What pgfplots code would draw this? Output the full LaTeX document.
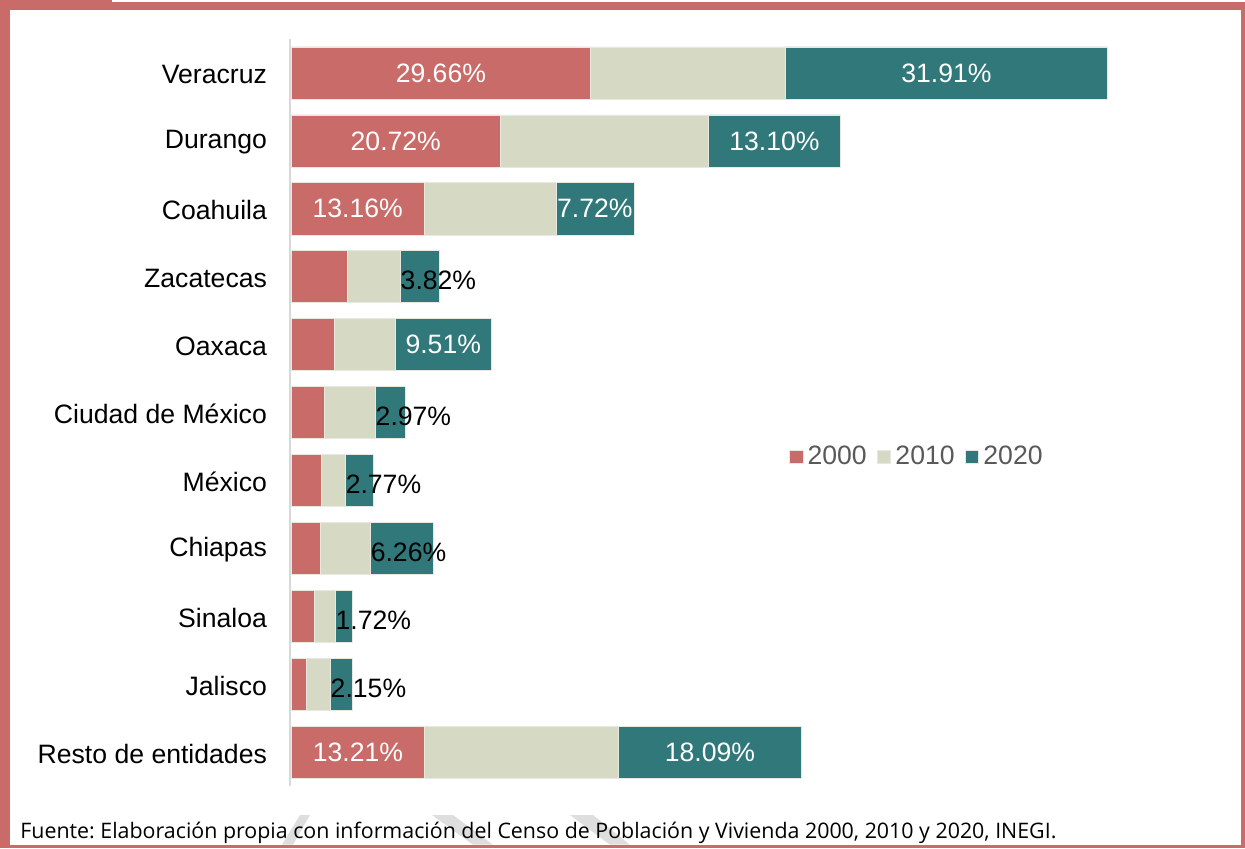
\documentclass[border=0pt]{standalone}
\usepackage{fontspec}
\setmainfont{Liberation Sans}
\newfontfamily\footfont{Open Sans}
\usepackage{pgfplots}
\pgfplotsset{compat=1.18}
\usepackage{pgfplotstable}
\definecolor{cA}{HTML}{C96C69}
\definecolor{cB}{HTML}{D6DAC4}
\definecolor{cC}{HTML}{31787A}
\definecolor{frm}{HTML}{C96C69}
\definecolor{axgrey}{HTML}{D9D9D9}
\definecolor{leggrey}{HTML}{595959}
\definecolor{wm}{HTML}{DEDEDE}
\definecolor{bord}{HTML}{E8E8E0}
\newcommand{\lblfont}{\fontsize{13.3}{16}\selectfont}
\tikzset{wl/.style={text=white, font=\lblfont, inner sep=0pt},
         bl/.style={text=black, font=\lblfont, inner sep=0pt, anchor=west, yshift=-2pt}}

\pgfplotstableread{
idx a b c
0 29.66 19.34 31.91
1 20.72 20.63 13.10
2 13.16 13.12 7.72
3 5.55 5.26 3.82
4 4.26 6.05 9.51
5 3.27 5.06 2.97
6 2.98 2.38 2.77
7 2.88 4.96 6.26
8 2.28 2.08 1.72
9 1.49 2.38 2.15
10 13.21 19.25 18.09
}\mydata

\begin{document}
\frenchspacing
\begin{tikzpicture}
% frame
\fill[white] (0,0) rectangle (622.5pt,-424pt);
\fill[frm] (0,-1.15pt) rectangle (622.5pt,-424pt);
\fill[frm] (0,0) rectangle (56pt,-1.15pt);
\fill[white] (5pt,-5pt) rectangle (620.35pt,-422.35pt);
% watermark slices
\fill[wm] (150pt,-407.5pt) -- (155pt,-407.5pt) -- (146.5pt,-422.35pt) -- (141pt,-422.35pt) -- cycle;
\fill[wm] (216pt,-407.5pt) -- (226.5pt,-407.5pt) -- (246.5pt,-422.35pt) -- (236.5pt,-422.35pt) -- cycle;
\fill[wm] (285pt,-407.5pt) -- (296.5pt,-407.5pt) -- (315pt,-422.35pt) -- (305pt,-422.35pt) -- cycle;

\begin{axis}[
  at={(145.15pt,-393pt)}, anchor=south west,
  scale only axis, width=410.7pt, height=373.5pt,
  xbar stacked, bar width=0.766,
  xmin=-0.1, xmax=81.35, ymin=-0.5, ymax=10.5, y dir=reverse,
  axis x line=none, axis y line*=left,
  y axis line style={draw=axgrey, line width=1pt},
  ytick={0,1,2,3,4,5,6,7,8,9,10},
  yticklabels={Veracruz, Durango, Coahuila, Zacatecas, Oaxaca, Ciudad de México, México, Chiapas, Sinaloa, Jalisco, Resto de entidades},
  major tick length=0pt,
  yticklabel style={anchor=east, inner sep=0pt, xshift=-11.5pt, yshift=-0.8pt, font=\lblfont, text=black},
  clip=false,
  legend columns=3,
  legend style={at={(0.607,0.4405)}, anchor=west, draw=none, fill=none, inner sep=0pt,
    font=\lblfont, text=leggrey, nodes={inner sep=0pt},
    /tikz/every odd column/.append style={column sep=2.2pt},
    /tikz/every even column/.append style={column sep=5.3pt}},
  legend image code/.code={\fill[#1] (0pt,-3.3pt) rectangle (6.6pt,3.3pt);},
]
\addplot[fill=cA, draw=bord, line width=0.3pt] table[x=a, y=idx] {\mydata};
\addplot[fill=cB, draw=bord, line width=0.3pt] table[x=b, y=idx] {\mydata};
\addplot[fill=cC, draw=bord, line width=0.3pt] table[x=c, y=idx] {\mydata};
\legend{2000, 2010, 2020}

\coordinate (w1) at (axis cs:14.83,0);
\coordinate (w2) at (axis cs:64.955,0);
\coordinate (w3) at (axis cs:10.36,1);
\coordinate (w4) at (axis cs:47.9,1);
\coordinate (w5) at (axis cs:6.58,2);
\coordinate (w6) at (axis cs:30.1,2);
\coordinate (w7) at (axis cs:15.065,4);
\coordinate (w8) at (axis cs:6.605,10);
\coordinate (w9) at (axis cs:41.505,10);
\coordinate (b1) at (axis cs:10.81,3);
\coordinate (b2) at (axis cs:8.33,5);
\coordinate (b3) at (axis cs:5.36,6);
\coordinate (b4) at (axis cs:7.84,7);
\coordinate (b5) at (axis cs:4.36,8);
\coordinate (b6) at (axis cs:3.87,9);
\end{axis}

\node[wl] at (w1) {29.66\%};
\node[wl] at (w2) {31.91\%};
\node[wl] at (w3) {20.72\%};
\node[wl] at (w4) {13.10\%};
\node[wl] at (w5) {13.16\%};
\node[wl] at (w6) {7.72\%};
\node[wl] at (w7) {9.51\%};
\node[wl] at (w8) {13.21\%};
\node[wl] at (w9) {18.09\%};
\node[bl] at (b1) {3.82\%};
\node[bl] at (b2) {2.97\%};
\node[bl] at (b3) {2.77\%};
\node[bl] at (b4) {6.26\%};
\node[bl] at (b5) {1.72\%};
\node[bl] at (b6) {2.15\%};

\node[anchor=base west, inner sep=0pt] at (10pt,-419pt) {\footfont\fontsize{10.69}{12}\selectfont Fuente: Elaboración propia con información del Censo de Población y Vivienda 2000, 2010 y 2020, INEGI.};
\end{tikzpicture}
\end{document}
